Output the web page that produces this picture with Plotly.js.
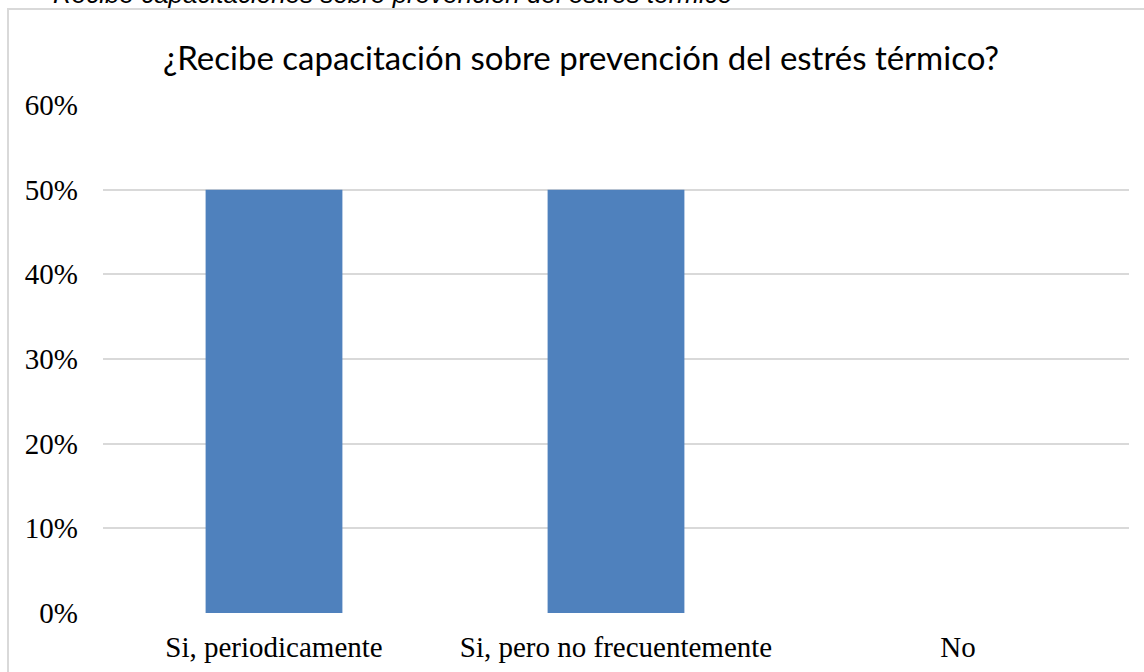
<!DOCTYPE html>
<html>
<head>
<meta charset="utf-8">
<script src="https://cdn.plot.ly/plotly-3.0.1.min.js"></script>
<style>
  html, body { margin: 0; padding: 0; background: #fff; width: 1144px; height: 672px; overflow: hidden; }
  #wrap { position: relative; width: 1144px; height: 672px; }
  #frame { position: absolute; left: 7px; top: 8px; width: 1200px; height: 700px; border: 2px solid #d9d9d9; box-sizing: border-box; pointer-events: none; }
  #caption { position: absolute; left: 53px; top: -21px; font-family: "Liberation Sans", Arial, sans-serif; font-style: italic; font-size: 26px; color: #000; white-space: nowrap; }
  #chart { position: absolute; left: 0; top: 0; width: 1144px; height: 672px; }
</style>
</head>
<body>
<div id="wrap">
  <div id="chart"></div>
  <div id="frame"></div>
  <div id="caption">Recibe capacitaciones sobre prevención del estrés térmico</div>
</div>
<script>
const categories = ["Si, periodicamente", "Si, pero no frecuentemente", "No"];
const values = [0.5, 0.5, 0];
const chartTitle = "¿Recibe capacitación sobre prevención del estrés térmico?";

const trace = {
  type: "bar",
  x: categories,
  y: values,
  marker: { color: "#4F81BD" },
  hoverinfo: "skip"
};

const layout = {
  width: 1144,
  height: 672,
  margin: { l: 103, r: 15, t: 105, b: 59 },
  paper_bgcolor: "rgba(0,0,0,0)",
  plot_bgcolor: "rgba(0,0,0,0)",
  bargap: 0.6,
  showlegend: false,
  title: {
    text: chartTitle,
    font: { family: "Lato, 'Noto Sans', sans-serif", size: 33, color: "#000" },
    x: 0.466, xref: "paper", xanchor: "center",
    y: 1 - 58 / 672, yref: "container", yanchor: "middle"
  },
  xaxis: {
    type: "category",
    showgrid: false,
    zeroline: false,
    showline: false,
    ticks: "",
    ticklabelstandoff: 14,
    tickfont: { family: "'Liberation Serif', 'Times New Roman', serif", size: 29, color: "#000" },
    fixedrange: true
  },
  yaxis: {
    range: [0, 0.6],
    dtick: 0.1,
    tick0: 0,
    tickformat: ".0%",
    showgrid: true,
    gridcolor: "#d9d9d9",
    gridwidth: 2,
    zeroline: false,
    showline: false,
    ticks: "",
    ticklabelstandoff: 24,
    tickfont: { family: "'Liberation Serif', 'Times New Roman', serif", size: 29, color: "#000" },
    fixedrange: true
  }
};

Plotly.newPlot("chart", [trace], layout, { displayModeBar: false, staticPlot: true });
</script>
</body>
</html>
